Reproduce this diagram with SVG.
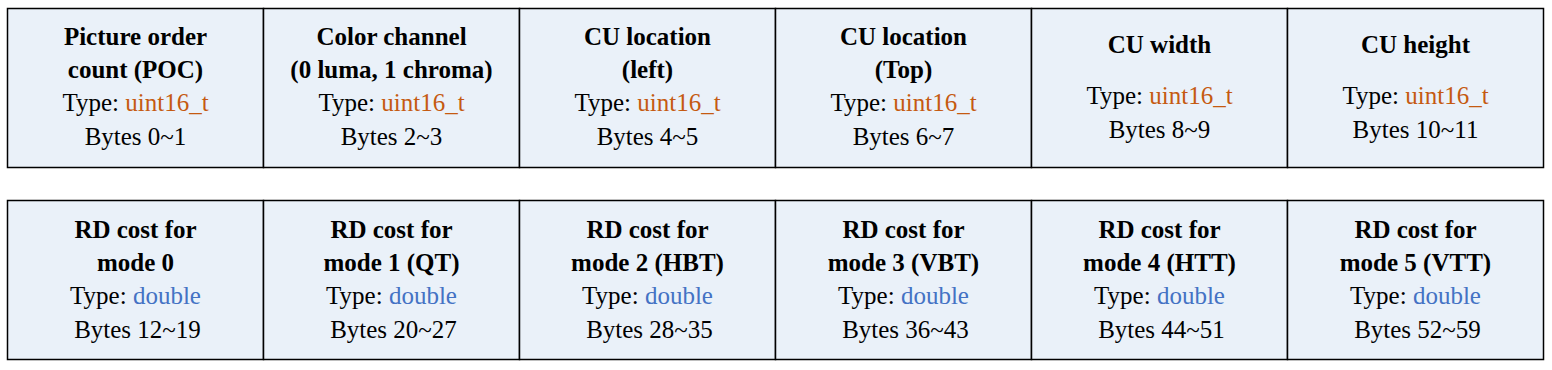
<svg xmlns="http://www.w3.org/2000/svg" width="1552" height="370" viewBox="0 0 1552 370">
<style>
.cell{fill:#EAF1F9;stroke:#000;stroke-width:1.5}
text{font-family:"Liberation Serif","Times New Roman",serif;font-size:25px;text-anchor:middle;fill:#000}
.b{font-weight:bold}
.o{fill:#C55A11}
.u{fill:#4472C4}
</style>
<rect width="1552" height="370" fill="#fff"/>
<g id="row1">
<g id="poc"><rect class="cell" x="7.5" y="8.5" width="256" height="159"/>
<text class="b" x="135.5" y="45">Picture order</text><text class="b" x="135.5" y="78">count (POC)</text>
<text x="135.5" y="111">Type: <tspan class="o">uint16_t</tspan></text><text x="135.5" y="145">Bytes 0~1</text></g>
<g id="color"><rect class="cell" x="263.5" y="8.5" width="256" height="159"/>
<text class="b" x="391.5" y="45">Color channel</text><text class="b" x="391.5" y="78">(0 luma, 1 chroma)</text>
<text x="391.5" y="111">Type: <tspan class="o">uint16_t</tspan></text><text x="391.5" y="145">Bytes 2~3</text></g>
<g id="left"><rect class="cell" x="519.5" y="8.5" width="256" height="159"/>
<text class="b" x="647.5" y="45">CU location</text><text class="b" x="647.5" y="78">(left)</text>
<text x="647.5" y="111">Type: <tspan class="o">uint16_t</tspan></text><text x="647.5" y="145">Bytes 4~5</text></g>
<g id="top"><rect class="cell" x="775.5" y="8.5" width="256" height="159"/>
<text class="b" x="903.5" y="45">CU location</text><text class="b" x="903.5" y="78">(Top)</text>
<text x="903.5" y="111">Type: <tspan class="o">uint16_t</tspan></text><text x="903.5" y="145">Bytes 6~7</text></g>
<g id="width"><rect class="cell" x="1031.5" y="8.5" width="256" height="159"/>
<text class="b" x="1159.5" y="53">CU width</text>
<text x="1159.5" y="104">Type: <tspan class="o">uint16_t</tspan></text><text x="1159.5" y="138">Bytes 8~9</text></g>
<g id="height"><rect class="cell" x="1287.5" y="8.5" width="256" height="159"/>
<text class="b" x="1415.5" y="53">CU height</text>
<text x="1415.5" y="104">Type: <tspan class="o">uint16_t</tspan></text><text x="1415.5" y="138">Bytes 10~11</text></g>
</g>
<g id="row2">
<g id="m0"><rect class="cell" x="7.5" y="200.5" width="256" height="159"/>
<text class="b" x="135.5" y="238">RD cost for</text><text class="b" x="135.5" y="271">mode 0</text>
<text x="135.5" y="304">Type: <tspan class="u">double</tspan></text><text x="137.5" y="338">Bytes 12~19</text></g>
<g id="m1"><rect class="cell" x="263.5" y="200.5" width="256" height="159"/>
<text class="b" x="391.5" y="238">RD cost for</text><text class="b" x="391.5" y="271">mode 1 (QT)</text>
<text x="391.5" y="304">Type: <tspan class="u">double</tspan></text><text x="393.5" y="338">Bytes 20~27</text></g>
<g id="m2"><rect class="cell" x="519.5" y="200.5" width="256" height="159"/>
<text class="b" x="647.5" y="238">RD cost for</text><text class="b" x="647.5" y="271">mode 2 (HBT)</text>
<text x="647.5" y="304">Type: <tspan class="u">double</tspan></text><text x="649.5" y="338">Bytes 28~35</text></g>
<g id="m3"><rect class="cell" x="775.5" y="200.5" width="256" height="159"/>
<text class="b" x="903.5" y="238">RD cost for</text><text class="b" x="903.5" y="271">mode 3 (VBT)</text>
<text x="903.5" y="304">Type: <tspan class="u">double</tspan></text><text x="905.5" y="338">Bytes 36~43</text></g>
<g id="m4"><rect class="cell" x="1031.5" y="200.5" width="256" height="159"/>
<text class="b" x="1159.5" y="238">RD cost for</text><text class="b" x="1159.5" y="271">mode 4 (HTT)</text>
<text x="1159.5" y="304">Type: <tspan class="u">double</tspan></text><text x="1161.5" y="338">Bytes 44~51</text></g>
<g id="m5"><rect class="cell" x="1287.5" y="200.5" width="256" height="159"/>
<text class="b" x="1415.5" y="238">RD cost for</text><text class="b" x="1415.5" y="271">mode 5 (VTT)</text>
<text x="1415.5" y="304">Type: <tspan class="u">double</tspan></text><text x="1417.5" y="338">Bytes 52~59</text></g>
</g>
<g id="connectors"/>
</svg>
